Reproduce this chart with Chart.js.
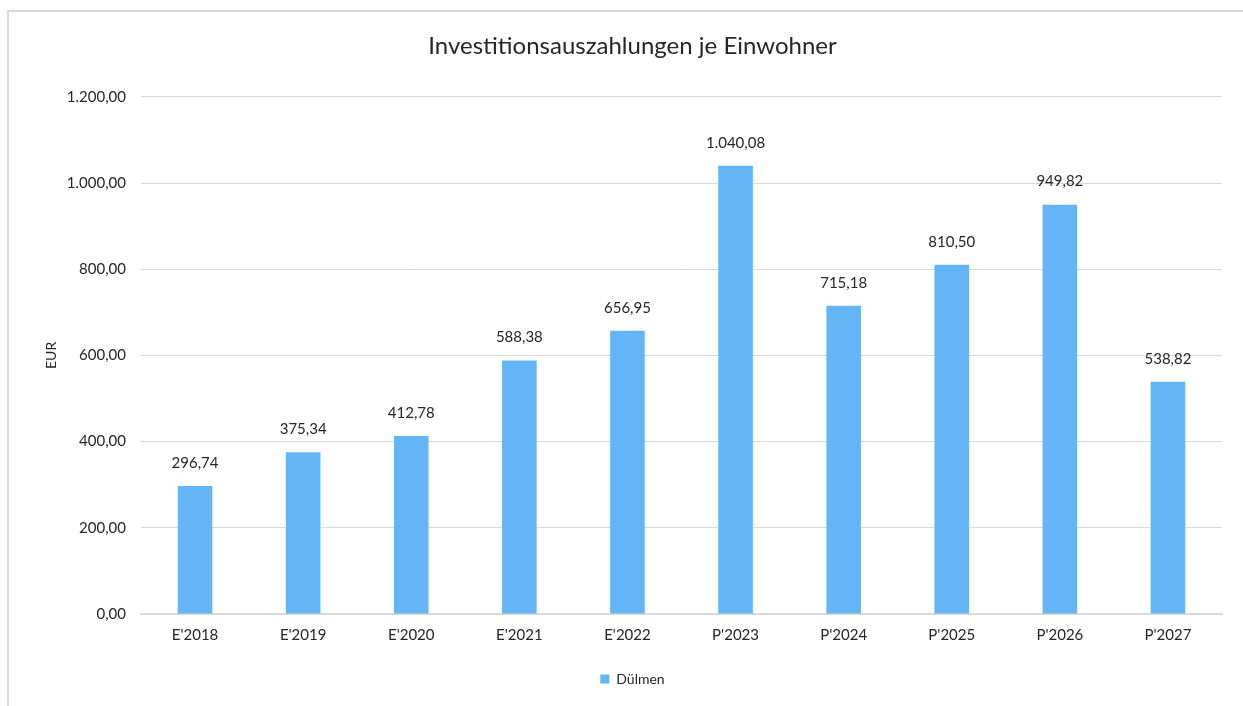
<!DOCTYPE html>
<html>
<head>
<meta charset="utf-8">
<script src="https://cdn.jsdelivr.net/npm/chart.js@4/dist/chart.umd.min.js"></script>
<style>
  html, body { margin: 0; padding: 0; background: #fff; overflow: hidden; }
  #frame { position: absolute; left: 7px; top: 10px; width: 1400px; height: 900px; border: 2px solid #d9d9d9; box-sizing: border-box; }
  #c { position: absolute; left: 0; top: 0; }
</style>
</head>
<body>
<div id="frame"></div>
<canvas id="c" width="1243" height="706"></canvas>
<script>
const categories = ["E'2018", "E'2019", "E'2020", "E'2021", "E'2022", "P'2023", "P'2024", "P'2025", "P'2026", "P'2027"];
const duelmen = [296.74, 375.34, 412.78, 588.38, 656.95, 1040.08, 715.18, 810.50, 949.82, 538.82];
const seriesName = "Dülmen";
const chartTitle = "Investitionsauszahlungen je Einwohner";
const yAxisTitle = "EUR";

const fmt = new Intl.NumberFormat('de-DE', { minimumFractionDigits: 2, maximumFractionDigits: 2 });
const FONT = 'Lato, "Open Sans", sans-serif';
const TXT = '#262626';

const valueLabels = {
  id: 'valueLabels',
  afterDatasetsDraw(chart) {
    const ctx = chart.ctx;
    ctx.save();
    ctx.font = '15px ' + FONT;
    ctx.fillStyle = TXT;
    ctx.textAlign = 'center';
    ctx.textBaseline = 'middle';
    chart.data.datasets.forEach((ds, i) => {
      chart.getDatasetMeta(i).data.forEach((bar, j) => {
        ctx.fillText(fmt.format(ds.data[j]), bar.x, bar.y - 23);
      });
    });
    ctx.restore();
  }
};

new Chart(document.getElementById('c'), {
  type: 'bar',
  data: {
    labels: categories,
    datasets: [{
      label: seriesName,
      data: duelmen,
      backgroundColor: '#64B5F6',
      borderWidth: 0,
      categoryPercentage: 1,
      barPercentage: 0.32
    }]
  },
  options: {
    responsive: false,
    animation: false,
    devicePixelRatio: 1,
    layout: { padding: { left: 43, right: 21, top: 28, bottom: 10 } },
    plugins: {
      title: {
        display: true,
        text: chartTitle,
        color: '#262626',
        font: { family: FONT, size: 24, weight: 'normal' },
        padding: { top: 4, bottom: 36 }
      },
      legend: {
        position: 'bottom',
        labels: {
          color: TXT,
          font: { family: FONT, size: 14 },
          boxWidth: 9,
          boxHeight: 9,
          padding: 20
        }
      },
      tooltip: { enabled: false }
    },
    scales: {
      x: {
        afterFit(scale) { scale.height -= 4; },
        grid: { display: false, drawTicks: false },
        border: { color: '#d9d9d9', width: 2 },
        ticks: { color: TXT, font: { family: FONT, size: 15 }, padding: 12 }
      },
      y: {
        min: 0,
        max: 1200,
        afterFit(scale) { scale.width = 98; },
        grid: { color: '#d9d9d9', lineWidth: 1, drawTicks: false },
        border: { display: false },
        ticks: {
          stepSize: 200,
          color: TXT,
          font: { family: FONT, size: 15 },
          padding: 15,
          callback: v => fmt.format(v)
        },
        title: {
          display: true,
          text: yAxisTitle,
          color: TXT,
          font: { family: FONT, size: 14 },
          padding: 0
        }
      }
    }
  },
  plugins: [valueLabels]
});
</script>
</body>
</html>
